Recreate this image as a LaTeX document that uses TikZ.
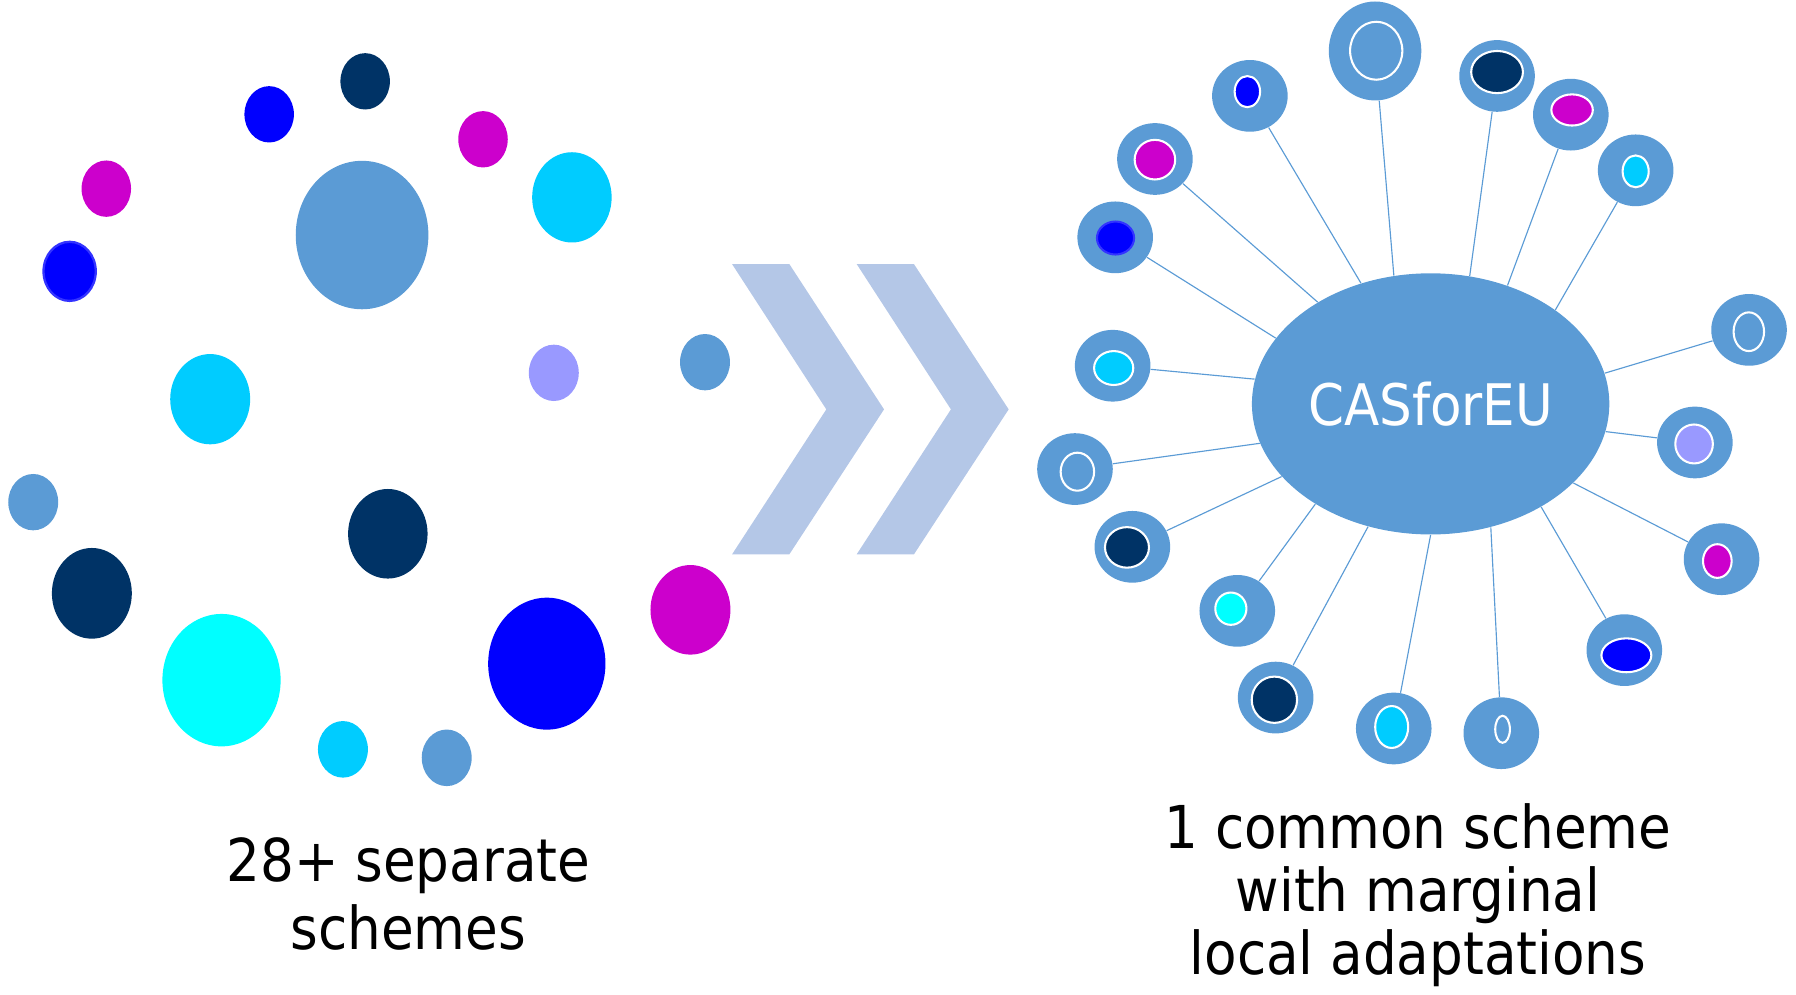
\documentclass[tikz,border=0pt]{standalone}
\usepackage{fontspec}
\setmainfont{DejaVu Sans Condensed}
\usetikzlibrary{shapes.geometric}
\definecolor{steel}{HTML}{5B9BD5}
\definecolor{navy}{HTML}{003366}
\definecolor{royal}{HTML}{0000FF}
\definecolor{plum}{HTML}{CC00CC}
\definecolor{sky}{HTML}{00CCFF}
\definecolor{aqua}{HTML}{00FFFF}
\definecolor{lilac}{HTML}{9999FF}
\definecolor{chevblue}{HTML}{B4C7E7}
\definecolor{edgeblue}{HTML}{3333FF}
\tikzstyle{spot}=[shape=ellipse,inner sep=0,draw=none]
\tikzstyle{satring}=[shape=ellipse,inner sep=0,fill=steel]
\tikzstyle{satcore}=[shape=ellipse,inner sep=0,line width=0.9pt]
\tikzstyle{hubnode}=[shape=ellipse,inner sep=0,fill=steel,text=white,minimum width=156pt,minimum height=114pt,font=\fontsize{25}{30}\selectfont]
\tikzstyle{spoke}=[steel,line width=0.5pt]
\tikzstyle{blurb}=[align=center,inner sep=0]

\begin{document}
\begin{tikzpicture}[x=0.5pt,y=-0.5pt]
\useasboundingbox (0,0) rectangle (1568,868);

% 28+ separate schemes
\foreach \n/\x/\y/\rx/\ry/\c in {1/29/438.4/21.8/24.6/steel,2/80.2/518/34.9/39.6/navy,
	3/193.4/593.8/51.6/57.8/aqua,4/299.4/654.2/21.8/24.7/sky,5/390/661.6/21.8/24.7/steel,
	6/477.4/579.4/51.2/57.6/royal,7/602.8/532.4/34.9/39.1/plum,8/338.6/466/34.7/39.1/navy,
	9/183.5/348.5/34.9/39.4/sky,10/483.5/325.5/21.8/24.6/lilac,11/615.5/316.2/21.8/24.6/steel,
	12/499.3/172.3/34.7/39.4/sky,13/316.1/205.2/57.9/64.8/steel,14/421.7/121.6/21.6/24.6/plum,
	15/318.8/71/21.6/24.6/navy,16/235/99.8/21.6/24.6/royal,17/92.8/164.7/21.6/24.6/plum}{
	\draw (\x,\y)node[spot,fill=\c,minimum width=\rx pt,minimum height=\ry pt] (d\n){};
	}
\draw (60.8,236.9)node[spot,fill=royal,draw=edgeblue,line width=1pt,minimum width=22.8pt,minimum height=25.8pt] (d18){};

\foreach \dx in {0,108.8}{
	\fill[chevblue] (639.1+\dx,230.5)--(689.1+\dx,230.5)--(771.8+\dx,357.4)--(689.1+\dx,484)--(639.1+\dx,484)--(721.4+\dx,357.4)--cycle;}

% 1 common scheme
\draw (1249,352.6)node[hubnode] (hub){CASforEU};
\foreach \n/\x/\y/\rx/\ry/\cx/\cy/\w/\h/\c/\e/\a in {
	1/1091.2/83.7/33/31.3/1089/80/12/14.5/royal/white/120.8,
	2/1200.5/44.5/40.4/43.2/1201.5/44.3/23.7/26.2/steel/white/106.1,
	3/1307/66.3/33/31.3/1307/62.9/23.5/19.3/navy/white/73,
	4/1371.4/100.1/33/31.3/1372.5/96/19/14.5/plum/white/57.7,
	5/1428/148.7/33/31.3/1428/149.6/12.3/14.8/sky/white/37.2,
	6/1527/288/33/31.3/1526.8/289.6/14.2/17.8/steel/white/10.9,
	7/1479.7/386.3/33/31.3/1479/387.6/17.3/17.9/lilac/white/-9.7,
	8/1503/488.2/33/31.3/1499.3/489.8/13.4/15.6/plum/white/-29.8,
	9/1418.1/567.6/33/31.3/1419.9/572.1/22.7/15.7/royal/white/-43.8,
	10/1310.7/640.1/33/31.3/1311.8/636.7/7.3/12.7/steel/white/-64.7,
	11/1216.8/636/33/31.3/1215/634.7/15.3/19.2/sky/white/-90,
	12/1113.7/609/33/31.3/1112.6/610.9/20.7/21.1/navy/white/-117,
	13/1080.2/533.3/33/31.3/1074.6/531.4/14.5/15/aqua/white/221.7,
	14/988.6/477.4/33/31.3/983.9/477.9/20.1/18.6/navy/white/206.6,
	15/938.5/409.5/33/31.3/940.6/411.8/15.5/17.5/steel/white/193.7,
	16/971.4/319.3/33/31.3/972.3/321.3/18/15.7/sky/white/172.2,
	17/973.6/207.2/33/31.3/973.9/207.8/17.1/15.3/royal/edgeblue/157.6,
	18/1008.3/138.8/33/31.3/1008.3/139.4/18.6/18.2/plum/white/138.3}{
	\draw (\x,\y)node[satring,minimum width=\rx pt,minimum height=\ry pt] (s\n){};
	\draw (\cx,\cy)node[satcore,fill=\c,draw=\e,minimum width=\w pt-0.9pt,minimum height=\h pt-0.9pt] (c\n){};
	\draw[spoke] (s\n)--(hub.\a);
	}

\node[blurb,anchor=base,font=\fontsize{25.8}{29.5}\selectfont] (left) at (356.5,828.8) {28+ separate\\schemes};
\node[blurb,anchor=base,font=\fontsize{25.8}{27.5}\selectfont] (right) at (1238,851.2) {1 common scheme\\with marginal\\local adaptations};
\end{tikzpicture}
\end{document}
